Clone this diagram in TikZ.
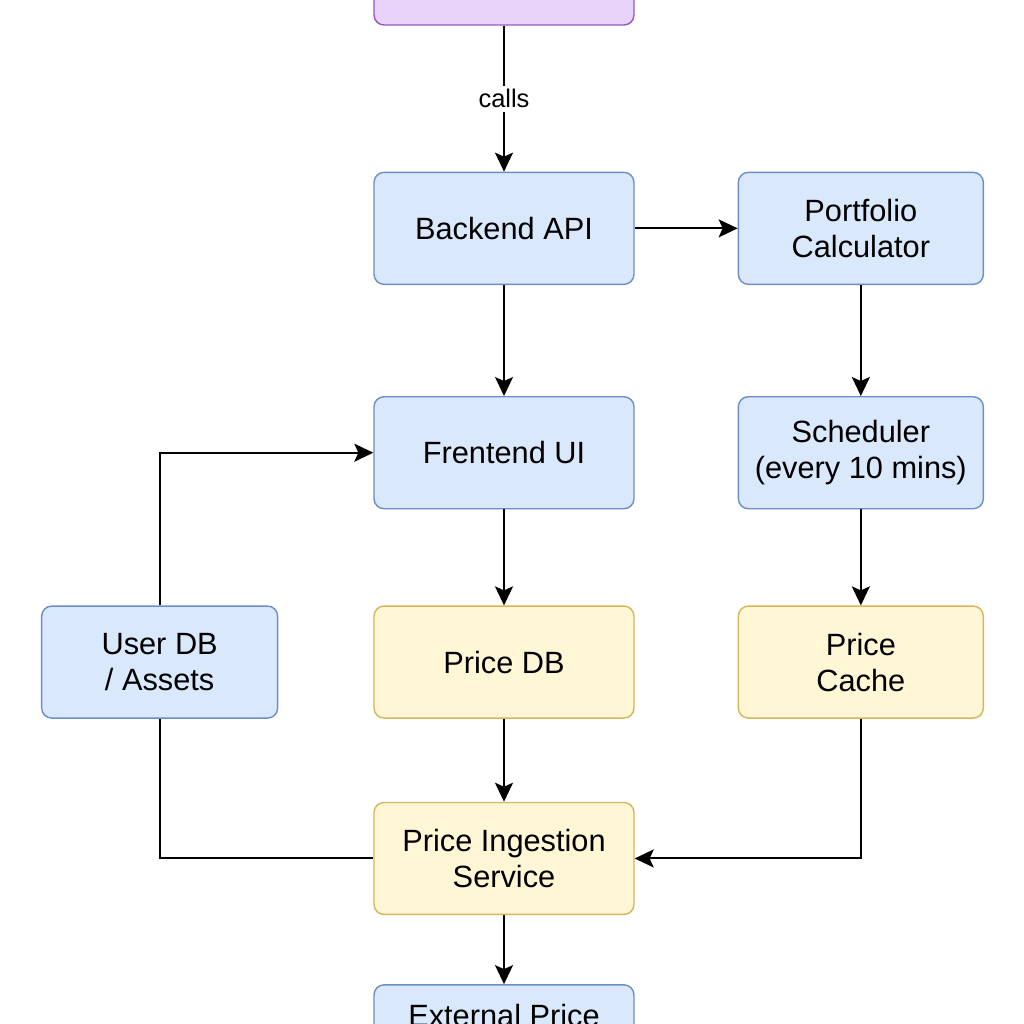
\documentclass[tikz,border=0pt]{standalone}
\usepackage{fontspec}
\setmainfont{Liberation Sans}
\usetikzlibrary{arrows.meta, positioning}
\definecolor{bluefill}{HTML}{DAE8FC}
\definecolor{blueline}{HTML}{6C8EC6}
\definecolor{yellowfill}{HTML}{FFF6D6}
\definecolor{yellowline}{HTML}{D6B656}
\definecolor{purplefill}{HTML}{E8D4FA}
\definecolor{purpleline}{HTML}{9B55C2}
\tikzset{
  box/.style={
    rectangle, rounded corners=0.2cm, draw=#1line, fill=#1fill,
    line width=0.8pt, align=center, minimum width=5.2cm,
    minimum height=2.24cm, font=\fontsize{17.5}{20.5}\selectfont
  },
  arrow/.style={-{Stealth[length=0.38cm, width=0.36cm, inset=0.08cm]},
    line width=1.1pt},
  link/.style={line width=1.1pt}
}
\begin{document}
\begin{tikzpicture}[x=0.02cm, y=-0.02cm]
  \useasboundingbox (0,0) rectangle (1024,1024);
  \node[box=purple] (client) at (504,-31) {};
  \node[box=blue, below=2.92cm of client] (backend) {Backend API};
  \node[box=blue, minimum width=4.9cm,
        right=2.06cm of backend] (calc) {Portfolio\\Calculator};
  \node[box=blue, below=2.22cm of backend] (frontend) {Frentend UI};
  \node[box=blue, minimum width=4.9cm,
        below=2.22cm of calc] (sched) {Scheduler\\(every 10 mins)};
  \node[box=yellow, below=1.92cm of frontend] (pricedb) {Price DB};
  \node[box=yellow, minimum width=4.9cm,
        below=1.92cm of sched] (cache) {Price\\Cache};
  \node[box=blue, minimum width=4.72cm,
        left=1.9cm of pricedb] (userdb) {User DB\\/ Assets};
  \node[box=yellow, below=1.66cm of pricedb] (ingest)
    {Price Ingestion\\Service};
  \node[box=blue, below=1.38cm of ingest,
        text height=0.63cm, text depth=1.19cm] (extprice)
    {External Price};
  % connectors
  \draw[arrow] (client) -- node[fill=white, inner sep=2pt,
    font=\fontsize{14.5}{17}\selectfont] {calls} (backend);
  \draw[arrow] (backend) -- (calc);
  \draw[arrow] (backend) -- (frontend);
  \draw[arrow] (calc) -- (sched);
  \draw[arrow] (frontend) -- (pricedb);
  \draw[arrow] (sched) -- (cache);
  \draw[arrow] (pricedb) -- (ingest);
  \draw[arrow] (ingest) -- (extprice);
  \draw[arrow] (userdb.north) |- (frontend.west);
  \draw[link] (userdb.south) |- (ingest.west);
  \draw[arrow] (cache.south) |- (ingest.east);
\end{tikzpicture}
\end{document}
